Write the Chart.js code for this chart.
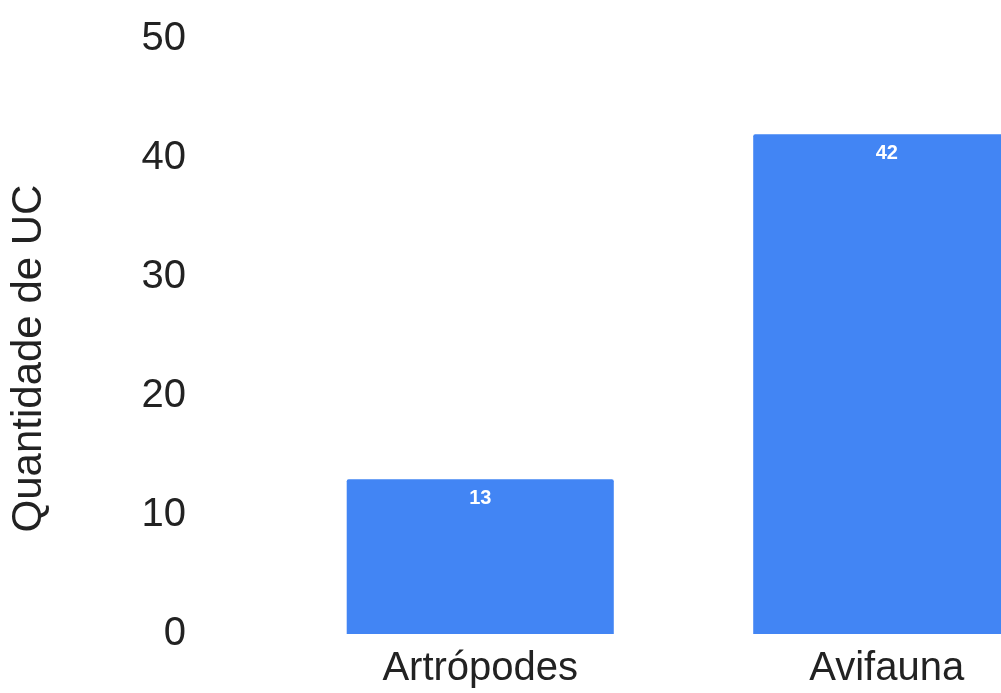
<!DOCTYPE html>
<html>
<head>
<meta charset="utf-8">
<script src="https://cdn.jsdelivr.net/npm/chart.js@4/dist/chart.umd.min.js"></script>
<style>
  html, body { margin: 0; padding: 0; background: #fff; overflow: hidden; }
  #wrap { position: relative; width: 1090px; height: 693px; }
</style>
</head>
<body>
<div id="wrap"><canvas id="chart1"></canvas></div>
<script>
// Data
var categories = ["Artrópodes", "Avifauna"];
var ucCount = [13, 42];
var yTicks = [0, 10, 20, 30, 40, 50];
var yTitle = "Quantidade de UC";

var barColor = "#4285f4";
var textColor = "#222222";
var fontFamily = "'Liberation Sans', Arial, sans-serif";

// white value label just inside the top of each bar
var valueLabels = {
  id: "valueLabels",
  afterDatasetsDraw: function (chart) {
    var ctx = chart.ctx;
    var meta = chart.getDatasetMeta(0);
    ctx.save();
    ctx.fillStyle = "#ffffff";
    ctx.font = "bold 20px " + fontFamily;
    ctx.textAlign = "center";
    ctx.textBaseline = "top";
    meta.data.forEach(function (bar, i) {
      ctx.fillText(String(ucCount[i]), bar.x, bar.y + 9);
    });
    ctx.restore();
  },
};

// rotated y title, sits a bit below the middle of the axis
var yAxisTitle = {
  id: "yAxisTitle",
  afterDraw: function (chart) {
    var ctx = chart.ctx;
    var area = chart.chartArea;
    ctx.save();
    ctx.translate(29, (area.top + area.bottom) / 2 + 22);
    ctx.rotate(-Math.PI / 2);
    ctx.fillStyle = textColor;
    ctx.font = "42px " + fontFamily;
    ctx.textAlign = "center";
    ctx.textBaseline = "middle";
    ctx.fillText(yTitle, 0, 0);
    ctx.restore();
  },
};

Chart.defaults.font.family = fontFamily;
Chart.defaults.color = textColor;

var chart1 = new Chart(document.getElementById("chart1"), {
  type: "bar",
  data: {
    labels: categories,
    datasets: [
      {
        data: ucCount,
        backgroundColor: barColor,
        borderWidth: 0,
        borderRadius: 2,
        categoryPercentage: 1,
        barPercentage: 0.657,
      },
    ],
  },
  options: {
    responsive: true,
    maintainAspectRatio: false,
    animation: false,
    layout: { padding: { top: 39, left: 0, right: 0, bottom: 0 } },
    plugins: {
      legend: { display: false },
      tooltip: { enabled: false },
    },
    scales: {
      x: {
        afterFit: function (scale) {
          scale.height = 59;
          scale.paddingLeft = 0;
          scale.paddingRight = 0;
        },
        grid: { display: false, drawTicks: false },
        border: { display: false },
        ticks: { font: { size: 40 }, padding: 11, maxRotation: 0, autoSkip: false },
      },
      y: {
        min: 0,
        max: 50,
        afterBuildTicks: function (scale) {
          scale.ticks = yTicks.map(function (v) { return { value: v }; });
        },
        afterFit: function (scale) {
          scale.width = 277;
          scale.paddingTop = 0;
          scale.paddingBottom = 0;
        },
        grid: { display: false, drawTicks: false },
        border: { display: false },
        ticks: { font: { size: 40 }, padding: 91 },
      },
    },
  },
  plugins: [valueLabels, yAxisTitle],
});
</script>
</body>
</html>
